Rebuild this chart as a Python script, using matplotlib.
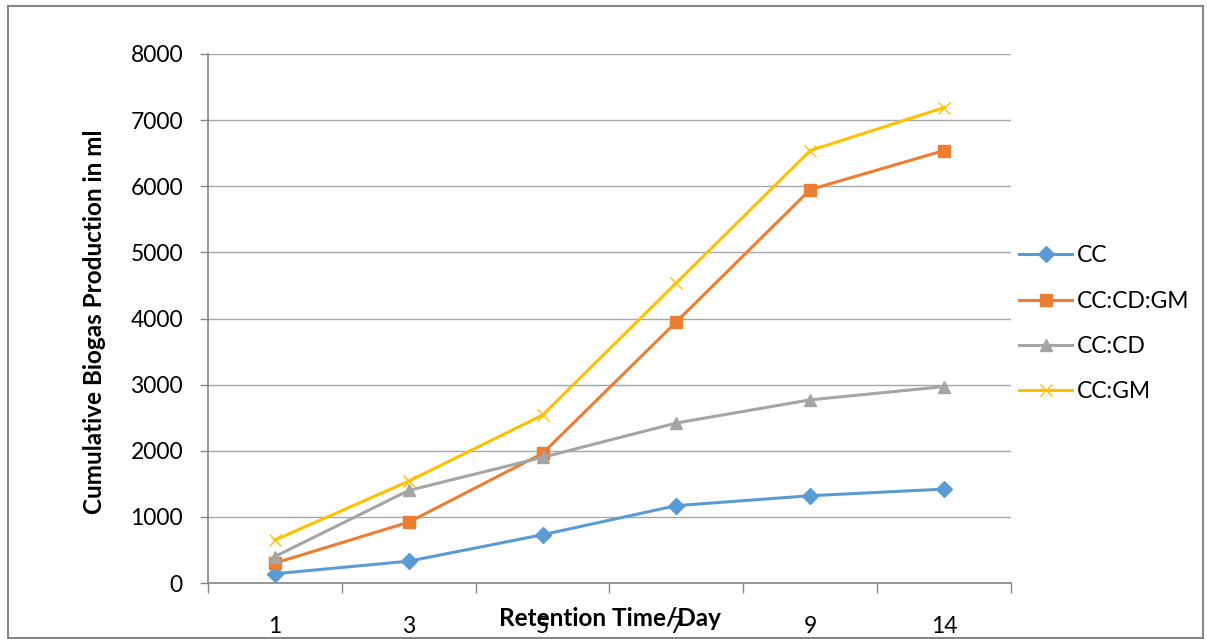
import matplotlib.pyplot as plt
from matplotlib.patches import Rectangle

plt.rcParams['font.family'] = ['Lato', 'DejaVu Sans']

days = ['1', '3', '5', '7', '9', '14']
cc = [140, 330, 730, 1170, 1320, 1420]
cc_cd_gm = [300, 920, 1960, 3950, 5950, 6540]
cc_cd = [400, 1400, 1900, 2420, 2770, 2970]
cc_gm = [650, 1540, 2540, 4540, 6540, 7190]

series = [
    ('CC', cc, '#5B9BD5', 'D', 8),
    ('CC:CD:GM', cc_cd_gm, '#ED7D31', 's', 9),
    ('CC:CD', cc_cd, '#A5A5A5', '^', 9),
    ('CC:GM', cc_gm, '#FFC000', 'x', 9),
]

fig = plt.figure(figsize=(12.07, 6.39), dpi=100)
ax = fig.add_axes([208 / 1207, 1 - 583 / 639, (1011 - 208) / 1207, (583 - 54) / 639])

x = list(range(len(days)))
for name, vals, col, mk, ms in series:
    ax.plot(x, vals, color=col, lw=2.2, marker=mk, markersize=ms,
            markeredgecolor=col, markerfacecolor=col, label=name)

ax.set_xlim(-0.5, len(days) - 0.5)
ax.set_ylim(0, 8000)
ax.set_yticks(range(0, 8001, 1000))
ax.set_xticks(x)
ax.set_xticklabels(days)
ax.set_xticks([i - 0.5 for i in range(len(days) + 1)], minor=True)
ax.tick_params(axis='x', which='major', length=0, pad=24, labelsize=16.5)
ax.tick_params(axis='x', which='minor', length=7, color='#868686', width=1)
ax.tick_params(axis='y', length=6, color='#868686', width=1, pad=12, labelsize=16.5)
ax.grid(axis='y', color='#a6a6a6', lw=1)
ax.set_axisbelow(True)
for s in ['top', 'right']:
    ax.spines[s].set_visible(False)
for s in ['left', 'bottom']:
    ax.spines[s].set_color('#868686')
    ax.spines[s].set_linewidth(1.2)

fig.text(95 / 1207, 1 - 322 / 639, 'Cumulative Biogas Production in ml', rotation=90,
         ha='center', va='center', fontsize=17.5, fontweight='bold')
fig.text(610 / 1207, 1 - 619 / 639, 'Retention Time/Day', ha='center', va='center',
         fontsize=17.5, fontweight='bold')

fig.legend(loc='upper left', bbox_to_anchor=(1008 / 1207, 1 - 234 / 639), frameon=False,
           fontsize=16.5, handlelength=2.3, handletextpad=0.2, labelspacing=1.05, borderpad=0)

fig.patches.append(Rectangle((8 / 1207, 1 / 639), 1195 / 1207, 632 / 639,
                             transform=fig.transFigure, fill=False,
                             edgecolor='#868686', lw=1.5))

plt.savefig('out.png', dpi=100)
